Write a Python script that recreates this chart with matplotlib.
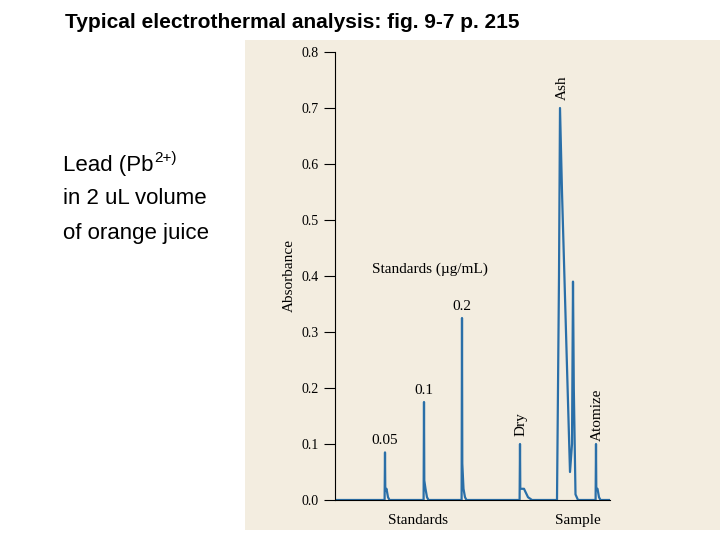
import matplotlib
matplotlib.use("Agg")
import matplotlib.pyplot as plt
import numpy as np

# peak data (x position in pixel-like units along the axis, height in absorbance)
peak_x = [50, 89, 127, 185, 225, 238, 261]
peak_h = [0.085, 0.175, 0.325, 0.10, 0.70, 0.39, 0.10]
peak_w = [1.5, 1.5, 1.5, 4, 5, 2, 1.5]
yticks = [0.0, 0.1, 0.2, 0.3, 0.4, 0.5, 0.6, 0.7, 0.8]

fig = plt.figure(figsize=(7.2, 5.4), dpi=100)
fig.patch.set_facecolor("white")
bg = fig.add_axes([245/720, 10/540, 475/720, 490/540])
bg.set_facecolor("#f3ede0")
bg.set_xticks([]); bg.set_yticks([])
for s in bg.spines.values():
    s.set_visible(False)

fig.text(65/720, 1-22/540, "Typical electrothermal analysis: fig. 9-7 p. 215",
         fontsize=15, fontweight="bold", family="Liberation Sans", va="center")
sans = dict(fontsize=16, family="Liberation Sans", va="center")
fig.text(63/720, 1-165/540, "Lead (Pb", **sans)
fig.text(154/720, 1-158/540, "2+)", fontsize=11, family="Liberation Sans", va="center")
fig.text(63/720, 1-198/540, "in 2 uL volume", **sans)
fig.text(63/720, 1-233/540, "of orange juice", **sans)

ax = fig.add_axes([335/720, 40/540, 275/720, 448/540])
ax.set_facecolor("none")
xs, ys = [0], [0]
for i, (p, h, w) in enumerate(zip(peak_x, peak_h, peak_w)):
    if i == 5:
        continue
    if i == 4:
        xs += [p - 3, p - 1, p, p + 2, p + 10, p + 12, peak_x[5], peak_x[5] + 0.8, peak_x[5] + 2.5, peak_x[5] + 5]
        ys += [0, 0.4, h, 0.55, 0.05, 0.1, peak_h[5], 0.2, 0.01, 0]
        continue
    xs += [p - 0.4, p, p + 0.3, p + w, p + 2 * w, p + 3 * w]
    ys += [0, h, h * 0.2, 0.02, 0.005, 0]
xs.append(275); ys.append(0)
ax.plot(xs, ys, color="#2a6fa8", lw=1.6)
ax.set_xlim(0, 275)
ax.set_ylim(0, 0.8)
ax.set_yticks(yticks)
ax.set_yticklabels([f"{v:.1f}" for v in yticks], family="Liberation Serif", fontsize=10)
ax.set_xticks([])
for s in ["top", "right"]:
    ax.spines[s].set_visible(False)
ax.tick_params(axis="y", direction="out", length=8)
ax.set_ylabel("Absorbance", family="Liberation Serif", fontsize=11)
ser = dict(family="Liberation Serif", fontsize=11)
ax.text(peak_x[0], 0.1, "0.05", ha="center", **ser)
ax.text(peak_x[1], 0.19, "0.1", ha="center", **ser)
ax.text(peak_x[2], 0.34, "0.2", ha="center", **ser)
ax.text(95, 0.405, "Standards (µg/mL)", ha="center", **ser)
ax.text(peak_x[3] + 1, 0.12, "Dry", rotation=90, ha="center", **ser)
ax.text(peak_x[4] + 2, 0.72, "Ash", rotation=90, ha="center", **ser)
ax.text(peak_x[6] + 1, 0.11, "Atomize", rotation=90, ha="center", **ser)
ax.text(83, -0.025, "Standards", ha="center", va="top", **ser)
ax.text(243, -0.025, "Sample", ha="center", va="top", **ser)
fig.savefig("out.png", dpi=100)
